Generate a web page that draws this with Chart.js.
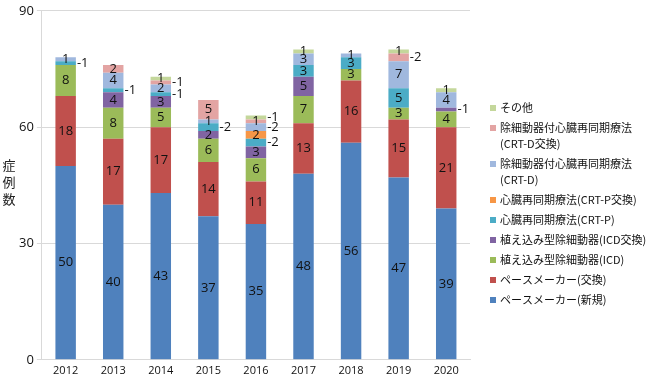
<!DOCTYPE html>
<html>
<head>
<meta charset="utf-8">
<script src="https://cdn.jsdelivr.net/npm/chart.js@4"></script>
<style>
  html, body { margin: 0; padding: 0; background: #fff; }
  #wrap { width: 654px; height: 381px; }
</style>
</head>
<body>
<div id="wrap"><canvas id="chart" width="654" height="381"></canvas></div>
<script>
const years = ["2012", "2013", "2014", "2015", "2016", "2017", "2018", "2019", "2020"];
const pmNew = [50, 40, 43, 37, 35, 48, 56, 47, 39];
const pmExchange = [18, 17, 17, 14, 11, 13, 16, 15, 21];
const icd = [8, 8, 5, 6, 6, 7, 3, 3, 4];
const icdExchange = [0, 4, 3, 2, 3, 5, 0, 0, 1];
const crtP = [1, 1, 1, 2, 2, 3, 3, 5, 0];
const crtPExchange = [0, 0, 0, 0, 2, 0, 0, 0, 0];
const crtD = [1, 4, 2, 1, 2, 3, 1, 7, 4];
const crtDExchange = [0, 2, 1, 5, 1, 0, 0, 2, 0];
const other = [0, 0, 1, 0, 1, 1, 0, 1, 1];
const yTicks = [0, 30, 60, 90];

// [dataset index, year index] of labels drawn beside the bar
const sideLabels = [[4, 0], [4, 1], [7, 2], [4, 2], [4, 3], [8, 4], [6, 4], [4, 4], [7, 7], [3, 8]];

const series = [
  { label: ["ペースメーカー(新規)"], data: pmNew, color: "#4F81BD" },
  { label: ["ペースメーカー(交換)"], data: pmExchange, color: "#C0504D" },
  { label: ["植え込み型除細動器(ICD)"], data: icd, color: "#9BBB59" },
  { label: ["植え込み型除細動器(ICD交換)"], data: icdExchange, color: "#8064A2" },
  { label: ["心臓再同期療法(CRT-P)"], data: crtP, color: "#4BACC6" },
  { label: ["心臓再同期療法(CRT-P交換)"], data: crtPExchange, color: "#F79646" },
  { label: ["除細動器付心臓再同期療法", "(CRT-D)"], data: crtD, color: "#A0B8DE" },
  { label: ["除細動器付心臓再同期療法", "(CRT-D交換)"], data: crtDExchange, color: "#E3A4A3" },
  { label: ["その他"], data: other, color: "#C4D79B" }
];

const jpFont = '"Noto Sans CJK JP", sans-serif';
const numFont = '"Open Sans", "Liberation Sans", sans-serif';

const labelPlugin = {
  id: "segLabels",
  afterDatasetsDraw(chart) {
    const ctx = chart.ctx;
    ctx.save();
    ctx.font = "13px " + numFont;
    ctx.fillStyle = "#111";
    ctx.textBaseline = "middle";
    chart.data.datasets.forEach((ds, di) => {
      const meta = chart.getDatasetMeta(di);
      meta.data.forEach((bar, i) => {
        const v = ds.data[i];
        if (!v) return;
        const cy = (bar.y + bar.base) / 2;
        const side = sideLabels.some(s => s[0] === di && s[1] === i);
        if (side) {
          ctx.textAlign = "left";
          ctx.fillText("-" + v, bar.x + bar.width / 2 + 1, cy);
        } else {
          ctx.textAlign = "center";
          ctx.fillText(String(v), bar.x, cy);
        }
      });
    });
    ctx.restore();
  }
};

const sideTextPlugin = {
  id: "sideText",
  afterDraw(chart) {
    const ctx = chart.ctx;
    ctx.save();
    // y axis title, stacked characters
    ctx.font = "13px " + jpFont;
    ctx.fillStyle = "#222";
    ctx.textAlign = "center";
    ctx.textBaseline = "middle";
    ["症", "例", "数"].forEach((c, k) => ctx.fillText(c, 9, 165 + k * 17));

    // legend, reversed order
    ctx.font = "11px " + jpFont;
    ctx.textAlign = "left";
    let y = 108;
    for (let k = series.length - 1; k >= 0; k--) {
      const s = series[k];
      ctx.fillStyle = s.color;
      ctx.fillRect(490, y - 3, 6, 6);
      ctx.fillStyle = "#111";
      s.label.forEach((line, j) => ctx.fillText(line, 500, y + j * 16));
      y += 20 + (s.label.length - 1) * 16;
    }
    ctx.restore();
  }
};

new Chart(document.getElementById("chart"), {
  type: "bar",
  data: {
    labels: years,
    datasets: series.map(s => ({
      label: s.label.join(""),
      data: s.data,
      backgroundColor: s.color,
      borderWidth: 0,
      barPercentage: 0.43,
      categoryPercentage: 1
    }))
  },
  options: {
    responsive: false,
    animation: false,
    layout: { padding: { left: 16, right: 184, top: -3, bottom: 0 } },
    plugins: {
      legend: { display: false },
      tooltip: { enabled: false }
    },
    scales: {
      x: {
        stacked: true,
        grid: { display: false, drawTicks: false },
        border: { color: "#D9D9D9" },
        ticks: { color: "#111", font: { size: 11, family: numFont }, padding: 4 }
      },
      y: {
        stacked: true,
        min: 0,
        max: 90,
        afterBuildTicks(scale) { scale.ticks = yTicks.map(v => ({ value: v })); },
        grid: { color: "#D9D9D9", tickLength: 5 },
        border: { color: "#D9D9D9" },
        ticks: { color: "#111", font: { size: 13, family: numFont }, padding: 3 }
      }
    }
  },
  plugins: [labelPlugin, sideTextPlugin]
});
</script>
</body>
</html>
